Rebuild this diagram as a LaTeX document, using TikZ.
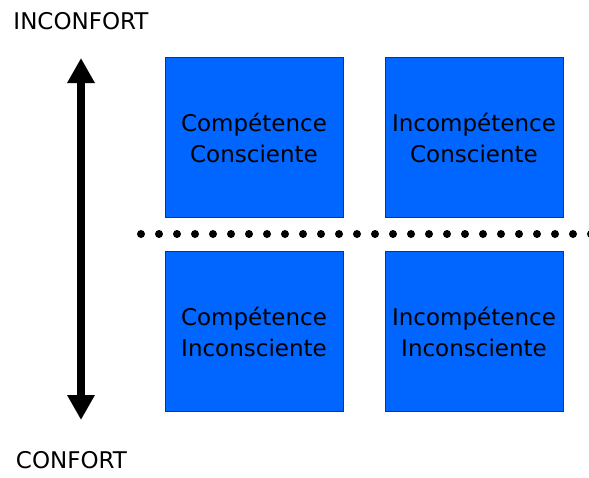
\documentclass[tikz,border=0pt]{standalone}
\usepackage{fontspec}
\setmainfont{DejaVu Sans}
\usetikzlibrary{arrows.meta}
\definecolor{boxblue}{HTML}{0066FF}
\definecolor{boxedge}{HTML}{333333}
\begin{document}
\begin{tikzpicture}[x=1pt,y=-1pt,
  quad/.style={draw=boxedge,line width=1pt,fill=boxblue,minimum width=178pt,minimum height=160pt,inner sep=0pt,align=center,font=\fontsize{23}{31}\selectfont},
  axislabel/.style={font=\fontsize{23}{28}\selectfont,inner sep=0pt},
  dots/.style={line width=8pt,line cap=round,dash pattern=on 0pt off 18pt},
  bigarrow/.style={line width=8pt,{Triangle[width=26pt,length=25pt]}-{Triangle[width=26pt,length=25pt]}}]
\useasboundingbox (0,0) rectangle (589,477);
\clip (0,0) rectangle (589,477);
\node[quad] (cc) at (254,137.5) {Compétence\\Consciente};
\node[quad] (ic) at (474,137.5) {Incompétence\\Consciente};
\node[quad] (ci) at (254,331.5) {Compétence\\Inconsciente};
\node[quad] (ii) at (474,331.5) {Incompétence\\Inconsciente};
\node[axislabel] (inc) at (81,21) {INCONFORT};
\node[axislabel] (con) at (71.5,460) {CONFORT};
\coordinate (atop) at (81,58);
\coordinate (abot) at (81,420);
\draw[bigarrow] (atop) -- (abot);
\coordinate (dl) at (141,234);
\coordinate (dr) at (600,234);
\draw[dots] (dl) -- (dr);
\end{tikzpicture}
\end{document}
